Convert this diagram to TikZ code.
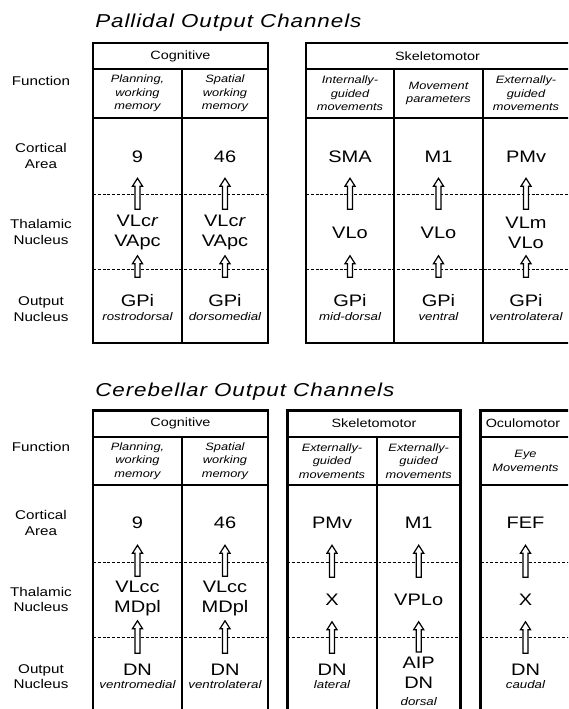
\documentclass[tikz,border=0pt]{standalone}
\usepackage{fontspec}
\setmainfont{Liberation Sans}[FakeStretch=1.2]
\newfontfamily\titlefont{Liberation Sans}[FakeStretch=1.2,LetterSpace=5]
\usetikzlibrary{calc}
\newcommand{\subnuc}[1]{{\itshape\fontsize{8.3}{9}\selectfont #1}}

\begin{document}
\begin{tikzpicture}[x=0.75pt,y=-0.75pt,
    frame/.style={line width=2.2pt},
    grid_line/.style={line width=1.4pt},
    dash_line/.style={line width=0.7pt,dash pattern=on 2.2pt off 1.4pt},
    title/.style={font=\titlefont\itshape\fontsize{14}{16}\selectfont,anchor=base west,inner sep=0pt},
    row_label/.style={font=\fontsize{9.5}{11.5}\selectfont,align=center,inner sep=0pt},
    head/.style={font=\fontsize{9}{11}\selectfont,inner sep=0pt},
    func/.style={font=\itshape\fontsize{8}{10}\selectfont,align=center,inner sep=0pt},
    area/.style={font=\fontsize{12.5}{15}\selectfont,align=center,inner sep=0pt},
    block_arrow/.style={draw,fill=white,line width=0.9pt,line join=miter,
      to path={let \p1=(\tikztostart.north), \p2=(\tikztotarget.south) in
        (\x1-1.9pt,\y1) -- (\x1-1.9pt,\y2-6pt) -- (\x1-3.8pt,\y2-6pt) -- (\x1,\y2)
        -- (\x1+3.8pt,\y2-6pt) -- (\x1+1.9pt,\y2-6pt) -- (\x1+1.9pt,\y1) -- cycle}}]

    \useasboundingbox (0,0) rectangle (568,709);
    \clip (0,0) rectangle (568,709);

    % frames: pallidal
    \draw[frame] (93,43) rectangle (268,343);
    \draw[frame] (306,43) rectangle (570,343);
    \draw[grid_line] (93,69) -- (268,69) (93,118) -- (268,118) (182,69) -- (182,343);
    \draw[grid_line] (306,69) -- (570,69) (306,118) -- (570,118) (394,69) -- (394,343) (483,69) -- (483,343);
    % frames: cerebellar
    \draw[frame] (93,410.7) rectangle (268,713);
    \draw[frame] (287.3,410.7) rectangle (460.7,713);
    \draw[frame] (480.7,410.7) rectangle (570,713);
    \draw[grid_line] (93,436.7) -- (268,436.7) (93,485) -- (268,485) (182,436.7) -- (182,713);
    \draw[grid_line] (287.3,436.7) -- (460.7,436.7) (287.3,485) -- (460.7,485) (376.7,436.7) -- (376.7,713);
    \draw[grid_line] (480.7,436.7) -- (570,436.7) (480.7,485) -- (570,485);

    \foreach \y in {194,269} {
        \draw[dash_line] (93,\y) -- (268,\y);
        \draw[dash_line] (306,\y) -- (570,\y);
    }
    \foreach \y in {562,637} {
        \draw[dash_line] (93,\y) -- (268,\y);
        \draw[dash_line] (287.3,\y) -- (460.7,\y);
        \draw[dash_line] (480.7,\y) -- (570,\y);
    }

    % titles
    \node[title] (pal_title) at (95,28)  {Pallidal Output Channels};
    \node[title] (cer_title) at (95,396) {Cerebellar Output Channels};

    % row labels
    \node[row_label] (pal_lbl_func) at (41,80.5) {Function};
    \node[row_label] (pal_lbl_cort) at (41,156)  {Cortical\\Area};
    \node[row_label] (pal_lbl_thal) at (41,232)  {Thalamic\\Nucleus};
    \node[row_label] (pal_lbl_out)  at (41,309)  {Output\\Nucleus};
    \node[row_label] (cer_lbl_func) at (41,447)   {Function};
    \node[row_label] (cer_lbl_cort) at (41,523)   {Cortical\\Area};
    \node[row_label] (cer_lbl_thal) at (41,599.5) {Thalamic\\Nucleus};
    \node[row_label] (cer_lbl_out)  at (41,676.5) {Output\\Nucleus};

    % pallidal channels
    \node[head] (pal_cog)  at (180.5,56) {Cognitive};
    \node[head] (pal_skel) at (437.5,56) {Skeletomotor};

    \node[func] (pal_func_1) at (137.5,93.5) {Planning,\\working\\memory};
    \node[func] (pal_func_2) at (225,93.5)   {Spatial\\working\\memory};
    \node[func] (pal_func_3) at (350,93.5)   {Internally-\\guided\\movements};
    \node[func] (pal_func_4) at (438.5,93.5) {Movement\\parameters};
    \node[func] (pal_func_5) at (526,93.5)   {Externally-\\guided\\movements};

    \node[area,minimum height=31.5pt] (pal_cort_1) at (137.5,157) {9};
    \node[area,minimum height=31.5pt] (pal_cort_2) at (225,157)   {46};
    \node[area,minimum height=31.5pt] (pal_cort_3) at (350,157)   {SMA};
    \node[area,minimum height=31.5pt] (pal_cort_4) at (438.5,157) {M1};
    \node[area,minimum height=31.5pt] (pal_cort_5) at (526,157)   {PMv};

    \node[area,minimum height=34.5pt] (pal_thal_1) at (137.5,232.5) {VLc\textit{r}\\VApc};
    \node[area,minimum height=34.5pt] (pal_thal_2) at (225,232.5)   {VLc\textit{r}\\VApc};
    \node[area,minimum height=34.5pt] (pal_thal_3) at (350,232.5)   {VLo};
    \node[area,minimum height=34.5pt] (pal_thal_4) at (438.5,232.5) {VLo};
    \node[area,minimum height=34.5pt] (pal_thal_5) at (526,232.5)   {VLm\\VLo};

    \node[area,minimum height=45pt] (pal_out_1) at (137.5,307.5) {GPi\\[-4.5pt]\subnuc{rostrodorsal}};
    \node[area,minimum height=45pt] (pal_out_2) at (225,307.5)   {GPi\\[-4.5pt]\subnuc{dorsomedial}};
    \node[area,minimum height=45pt] (pal_out_3) at (350,307.5)   {GPi\\[-4.5pt]\subnuc{mid-dorsal}};
    \node[area,minimum height=45pt] (pal_out_4) at (438.5,307.5) {GPi\\[-4.5pt]\subnuc{ventral}};
    \node[area,minimum height=45pt] (pal_out_5) at (526,307.5)   {GPi\\[-4.5pt]\subnuc{ventrolateral}};

    % cerebellar channels
    \node[head] (cer_cog)  at (180.5,423.7) {Cognitive};
    \node[head] (cer_skel) at (374,423.7)   {Skeletomotor};
    \node[head] (cer_ocu)  at (523,423.7)   {Oculomotor};

    \node[func] (cer_func_1) at (137.5,461) {Planning,\\working\\memory};
    \node[func] (cer_func_2) at (225,461)   {Spatial\\working\\memory};
    \node[func] (cer_func_3) at (332,461)   {Externally-\\guided\\movements};
    \node[func] (cer_func_4) at (418.7,461) {Externally-\\guided\\movements};
    \node[func] (cer_func_5) at (525.5,461) {Eye\\Movements};

    \node[area,minimum height=33pt] (cer_cort_1) at (137.5,523) {9};
    \node[area,minimum height=33pt] (cer_cort_2) at (225,523)   {46};
    \node[area,minimum height=33pt] (cer_cort_3) at (332,523)   {PMv};
    \node[area,minimum height=33pt] (cer_cort_4) at (418.7,523) {M1};
    \node[area,minimum height=33pt] (cer_cort_5) at (525.5,523) {FEF};

    \node[area,minimum height=33pt] (cer_thal_1) at (137.5,598.5) {VLcc\\MDpl};
    \node[area,minimum height=33pt] (cer_thal_2) at (225,598.5)   {VLcc\\MDpl};
    \node[area,minimum height=33pt] (cer_thal_3) at (332,599.5)   {X};
    \node[area,minimum height=33pt] (cer_thal_4) at (418.7,599.5) {VPLo};
    \node[area,minimum height=33pt] (cer_thal_5) at (525.5,599.5) {X};

    \node[area,minimum height=34.5pt] (cer_out_1) at (137.5,676.5) {DN\\[-5.2pt]\subnuc{ventromedial}};
    \node[area,minimum height=34.5pt] (cer_out_2) at (225,676.5)   {DN\\[-5.2pt]\subnuc{ventrolateral}};
    \node[area,minimum height=34.5pt] (cer_out_3) at (332,676.5)   {DN\\[-5.2pt]\subnuc{lateral}};
    \node[area,minimum height=44pt]   (cer_out_4) at (418.7,681.5) {AIP\\DN\\[-2.2pt]\subnuc{dorsal}};
    \node[area,minimum height=34.5pt] (cer_out_5) at (525.5,676.5) {DN\\[-5.2pt]\subnuc{caudal}};

    % projections
    \foreach \c in {1,...,5} {
        \draw[block_arrow] (pal_thal_\c) to (pal_cort_\c);
        \draw[block_arrow] (pal_out_\c)  to (pal_thal_\c);
        \draw[block_arrow] (cer_thal_\c) to (cer_cort_\c);
        \draw[block_arrow] (cer_out_\c)  to (cer_thal_\c);
    }
\end{tikzpicture}
\end{document}
